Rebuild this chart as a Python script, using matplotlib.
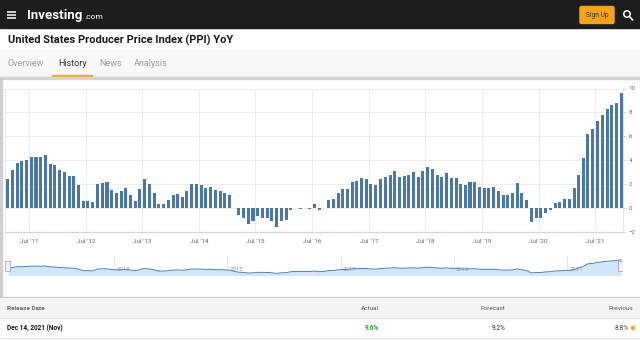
import matplotlib
matplotlib.use("Agg")
import matplotlib.pyplot as plt
import matplotlib.dates as mdates
from matplotlib.patches import Rectangle, FancyBboxPatch, Circle
import pandas as pd

# PPI YoY (%), reference months Jan 2011 .. Nov 2021
ppi_2011 = [2.4, 3.2, 3.8, 3.9, 4.0, 4.3, 4.3, 4.3, 4.4, 3.7, 3.6, 3.2]
ppi_2012 = [3.0, 2.7, 2.7, 1.9, 0.6, 0.6, 0.5, 2.0, 2.1, 2.2, 1.5, 1.3]
ppi_2013 = [1.4, 1.7, 1.1, 0.6, 1.6, 2.4, 2.0, 1.3, 0.3, 0.3, 0.7, 1.1]
ppi_2014 = [1.2, 0.9, 1.4, 2.0, 2.0, 1.9, 1.7, 1.8, 1.5, 1.4, 1.3, 1.1]
ppi_2015 = [0.0, -0.6, -0.8, -1.3, -1.1, -0.7, -0.8, -0.8, -1.1, -1.6, -1.1, -1.0]
ppi_2016 = [-0.2, 0.0, -0.1, 0.0, -0.1, 0.3, -0.2, 0.0, 0.7, 0.8, 1.3, 1.6]
ppi_2017 = [1.6, 2.2, 2.3, 2.5, 2.4, 2.0, 1.9, 2.4, 2.6, 2.8, 3.1, 2.6]
ppi_2018 = [2.7, 2.8, 3.0, 2.6, 3.1, 3.4, 3.3, 2.8, 2.6, 2.9, 2.5, 2.5]
ppi_2019 = [2.0, 1.9, 2.2, 2.2, 1.8, 1.7, 1.7, 1.8, 1.4, 1.1, 1.1, 1.3]
ppi_2020 = [2.1, 1.3, 0.7, -1.2, -0.8, -0.8, -0.4, -0.2, 0.4, 0.5, 0.8, 0.8]
ppi_2021 = [1.7, 2.8, 4.2, 6.2, 6.6, 7.3, 7.8, 8.3, 8.6, 8.8, 9.6]

values = (ppi_2011 + ppi_2012 + ppi_2013 + ppi_2014 + ppi_2015 + ppi_2016
          + ppi_2017 + ppi_2018 + ppi_2019 + ppi_2020 + ppi_2021)
ref_months = pd.date_range("2011-01-01", periods=len(values), freq="MS")
# bars sit at the release date (mid of following month)
release = ref_months + pd.DateOffset(months=1) + pd.Timedelta(days=14)

y_ticks = [-2, 0, 2, 4, 6, 8, 10]
x_tick_years = list(range(2011, 2022))
nav_years = [2013, 2015, 2017, 2019, 2021]

tab_names = ["Overview", "History", "News", "Analysis"]
tab_x = [8, 58, 99, 134]
table_cols = ["Actual", "Forecast", "Previous"]
table_vals = ["9.6%", "9.2%", "8.8%"]
table_right = [379, 505.5, 633]
release_label = "Dec 14, 2021 (Nov)"

BAR = "#4a76a8"
FONT = "Roboto"

fig = plt.figure(figsize=(6.4, 3.41), dpi=100)
fig.patch.set_facecolor("white")

# page layer in pixel coordinates
bg = fig.add_axes([0, 0, 1, 1])
bg.set_xlim(0, 640)
bg.set_ylim(341, 0)
bg.axis("off")

# header bar
bg.add_patch(Rectangle((0, 0), 640, 28, color="#1d1d1d"))
for yy in (12, 15, 18):
    bg.plot([7, 16], [yy, yy], color="white", lw=1.1, solid_capstyle="butt")
bg.text(27, 15.5, "Investing", color="white", fontsize=9.5, fontweight="bold",
        family=FONT, va="center", ha="left")
bg.text(84, 17, ".com", color="white", fontsize=6, family=FONT, va="center", ha="left")
bg.add_patch(FancyBboxPatch((580, 6.5), 34, 17, boxstyle="round,pad=0,rounding_size=1.5",
                            color="#f7a21b"))
bg.text(597, 15.3, "Sign Up", color="#333333", fontsize=4.8, family=FONT,
        ha="center", va="center")
bg.add_patch(Circle((627, 14), 3.2, fill=False, ec="white", lw=1.1))
bg.plot([629.3, 632.5], [16.3, 19.8], color="white", lw=1.2)

# title
bg.text(8, 40, "United States Producer Price Index (PPI) YoY", fontsize=8.0,
        fontweight="bold", family=FONT, color="#1a1a1a", va="center", ha="left")

# tabs
bg.add_patch(Rectangle((0, 50), 640, 27, color="#f8f8f8"))
for name, tx in zip(tab_names, tab_x):
    col = "#333333" if name == "History" else "#9a9a9a"
    bg.text(tx, 63.5, name, fontsize=6.5, family=FONT, color=col, va="center", ha="left")
bg.add_patch(Rectangle((52, 74.5), 40, 2.2, color="#f5a623"))
bg.add_patch(Rectangle((0, 77), 640, 1.6, color="#d4d4d4"))

# chart panel borders
bg.add_patch(Rectangle((0, 78), 1.5, 219, color="#cfcfcf"))
bg.add_patch(Rectangle((0, 296.5), 640, 1.2, color="#c4c4c4"))

# table
bg.add_patch(Rectangle((0, 297.7), 640, 20.5, color="#f4f4f4"))
bg.plot([0, 640], [318.3, 318.3], color="#e4e4e4", lw=0.7)
bg.plot([0, 640], [338.3, 338.3], color="#e4e4e4", lw=0.7)
bg.text(7, 308, "Release Date", fontsize=4.6, family=FONT, fontweight="bold",
        color="#666666", va="center", ha="left")
for col, xr in zip(table_cols, table_right):
    bg.text(xr, 308, col, fontsize=4.6, family=FONT, color="#555555", va="center", ha="right")
bg.text(7, 328.3, release_label, fontsize=4.7, family=FONT, fontweight="bold",
        color="#111111", va="center", ha="left")
val_colors = ["#2e9a2e", "#222222", "#444444"]
val_right = [379, 505.5, 628.5]
for v, xr, c in zip(table_vals, val_right, val_colors):
    bg.text(xr, 328.3, v, fontsize=4.7, family=FONT, color=c,
            fontweight="bold" if c == "#2e9a2e" else "normal", va="center", ha="right")
bg.add_patch(Circle((633, 328), 1.5, color="#f5a623"))

# main chart
x0 = mdates.date2num(release[0]) - 19
x1 = mdates.date2num(release[-1]) + 12

ax = fig.add_axes([5 / 640, 1 - 232 / 341, 618 / 640, 143.5 / 341])
ax.bar(release, values, width=19.5, color=BAR, zorder=3)
ax.set_xlim(x0, x1)
ax.set_ylim(-2, 10)
ax.set_yticks(y_ticks)
ax.yaxis.tick_right()
ax.set_xticks([mdates.date2num(pd.Timestamp(f"{y}-07-01")) for y in x_tick_years])
ax.set_xticklabels([f"Jul '{y % 100:02d}" for y in x_tick_years])
ax.grid(True, color="#e9e9e9", lw=0.6, zorder=0)
ax.tick_params(axis="x", length=0, pad=5, labelsize=4.6, labelcolor="#666666")
ax.tick_params(axis="y", length=2.5, width=0.5, color="#c8c8c8", pad=1.5,
               labelsize=4.4, labelcolor="#666666")
for lab in ax.get_xticklabels() + ax.get_yticklabels():
    lab.set_family(FONT)
ax.spines["top"].set_visible(False)
ax.spines["left"].set_color("#e2e2e2")
ax.spines["left"].set_linewidth(0.6)
ax.spines["right"].set_color("#e2e2e2")
ax.spines["right"].set_linewidth(0.6)
ax.spines["bottom"].set_color("#ccd6eb")
ax.spines["bottom"].set_linewidth(0.9)
ax.set_facecolor("none")

# navigator
nav = fig.add_axes([5 / 640, 1 - 275.5 / 341, 618 / 640, 20 / 341])
nav.set_xlim(x0, x1)
nav.set_ylim(-3.3, 13)
nav.fill_between(release, values, -3.3, color="#d3e6f9", lw=0, zorder=1)
nav.plot(release, values, color="#4a7fb5", lw=0.7, zorder=3)
for y in nav_years:
    xd = mdates.date2num(pd.Timestamp(f"{y}-01-01"))
    nav.axvline(xd, color="#e3e3e3", lw=0.6, zorder=0)
    nav.text(xd + 14, 1.3, str(y), fontsize=4.3, family=FONT, color="#9a9a9a",
             ha="left", va="center", zorder=2)
nav.plot([x0, x1], [-3.3, -3.3], color="#c9d3e3", lw=0.6)
for hx in (0.004, 0.996):
    nav.add_patch(Rectangle((hx - 0.004, 0.22), 0.008, 0.52, transform=nav.transAxes,
                            fc="#f2f2f2", ec="#999999", lw=0.5, zorder=5))
nav.axis("off")

fig.savefig("out.png", dpi=100)
